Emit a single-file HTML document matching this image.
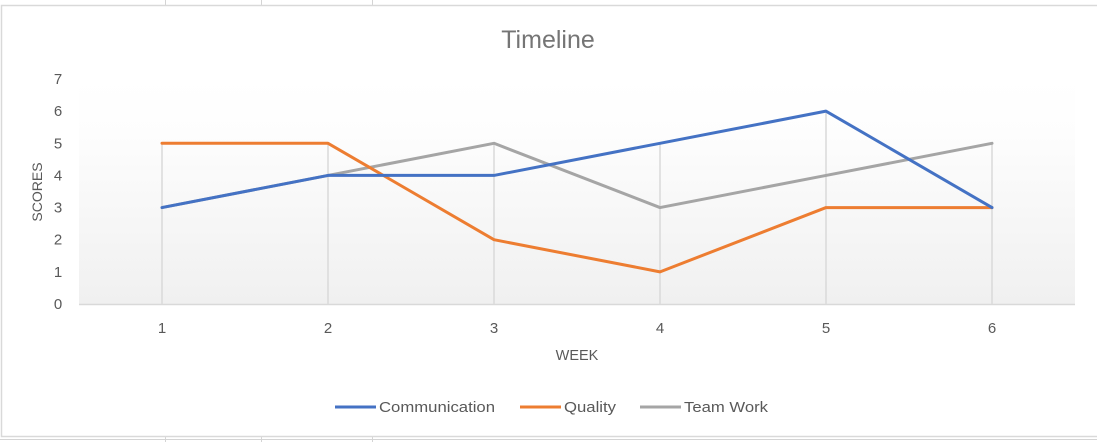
<!DOCTYPE html>
<html><head><meta charset="utf-8"><style>
html,body{margin:0;padding:0;background:#fff;}
svg{display:block;font-family:"Liberation Sans",sans-serif;}
</style></head><body>
<svg id="chart" width="1097" height="442" viewBox="0 0 1097 442">
<defs><linearGradient id="bg" x1="0" y1="0" x2="0" y2="1"><stop offset="0" stop-color="#ffffff"/><stop offset="0.25" stop-color="#fdfdfd"/><stop offset="1" stop-color="#f0f0f0"/></linearGradient></defs>
<g stroke="#d4d4d4" stroke-width="1">
<line x1="165.5" y1="0" x2="165.5" y2="5"/><line x1="261.5" y1="0" x2="261.5" y2="5"/><line x1="372.5" y1="0" x2="372.5" y2="5"/>
<line x1="165.5" y1="437" x2="165.5" y2="442"/><line x1="261.5" y1="437" x2="261.5" y2="442"/><line x1="372.5" y1="437" x2="372.5" y2="442"/>
<line x1="0" y1="439.5" x2="1097" y2="439.5"/>
</g>
<rect x="1.5" y="5.5" width="1100" height="431" fill="#fff" stroke="#d9d9d9" stroke-width="1.5"/>
<text x="548" y="48" text-anchor="middle" font-size="25" fill="#757575">Timeline</text>
<rect x="79" y="79" width="996" height="225" fill="url(#bg)"/>
<g id="drops"></g>
<line x1="79" y1="304.5" x2="1075" y2="304.5" stroke="#d9d9d9" stroke-width="1.5"/>
<g id="yticks"></g><g id="xticks"></g>
<g id="series"></g>
<text transform="translate(42,192) rotate(-90)" text-anchor="middle" font-size="14" fill="#595959">SCORES</text>
<text x="577" y="360" text-anchor="middle" font-size="14.5" fill="#595959">WEEK</text>
<g id="legend"></g>
</svg>
<script>
const categories = ["1","2","3","4","5","6"];
const communication = [3,4,4,5,6,3];
const quality = [5,5,2,1,3,3];
const teamWork = [3,4,5,3,4,5];
const yTickLabels = [0,1,2,3,4,5,6,7];
const seriesNames = ["Communication","Quality","Team Work"];
const NS="http://www.w3.org/2000/svg";
const x0=79,x1=1075,y0=304,y7=79,yMax=7;
const xs=i=>x0+(i+0.5)*(x1-x0)/categories.length;
const ys=v=>y0-v*(y0-y7)/yMax;
function mk(t,a,p){const e=document.createElementNS(NS,t);for(const k in a)e.setAttribute(k,a[k]);p.appendChild(e);return e;}
const all=[communication,quality,teamWork];
const drops=document.getElementById('drops');
categories.forEach((c,i)=>{const m=Math.max(...all.map(s=>s[i]));
const l=mk('line',{x1:xs(i),x2:xs(i),y1:ys(m),y2:y0,stroke:'#d9d9d9','stroke-width':1.5},drops);


const t=mk('text',{x:xs(i),y:333,'text-anchor':'middle','font-size':15,fill:'#595959'},document.getElementById('xticks'));t.textContent=c;

});
yTickLabels.forEach(v=>{const t=mk('text',{x:58,y:ys(v)+5,'text-anchor':'middle','font-size':15,fill:'#595959'},document.getElementById('yticks'));t.textContent=v;

});
const colors=['#4472c4','#ed7d31','#a5a5a5'];
const sg=document.getElementById('series');
[teamWork,quality,communication].forEach((s,k)=>{const idx=[2,1,0][k];
const p=mk('polyline',{points:s.map((v,i)=>xs(i)+','+ys(v)).join(' '),fill:'none',stroke:colors[idx],'stroke-width':3,'stroke-linejoin':'round','stroke-linecap':'round'},sg);

});
const lg=document.getElementById('legend');
const lx=[335,520,640];
const tw=[116,52,84];
seriesNames.forEach((n,i)=>{
const l=mk('line',{x1:lx[i],x2:lx[i]+41,y1:407,y2:407,stroke:colors[i],'stroke-width':3},lg);


const t=mk('text',{x:lx[i]+44,y:412,'font-size':15,fill:'#595959',textLength:tw[i],lengthAdjust:'spacingAndGlyphs'},lg);t.textContent=n;

});
</script>
</body></html>
